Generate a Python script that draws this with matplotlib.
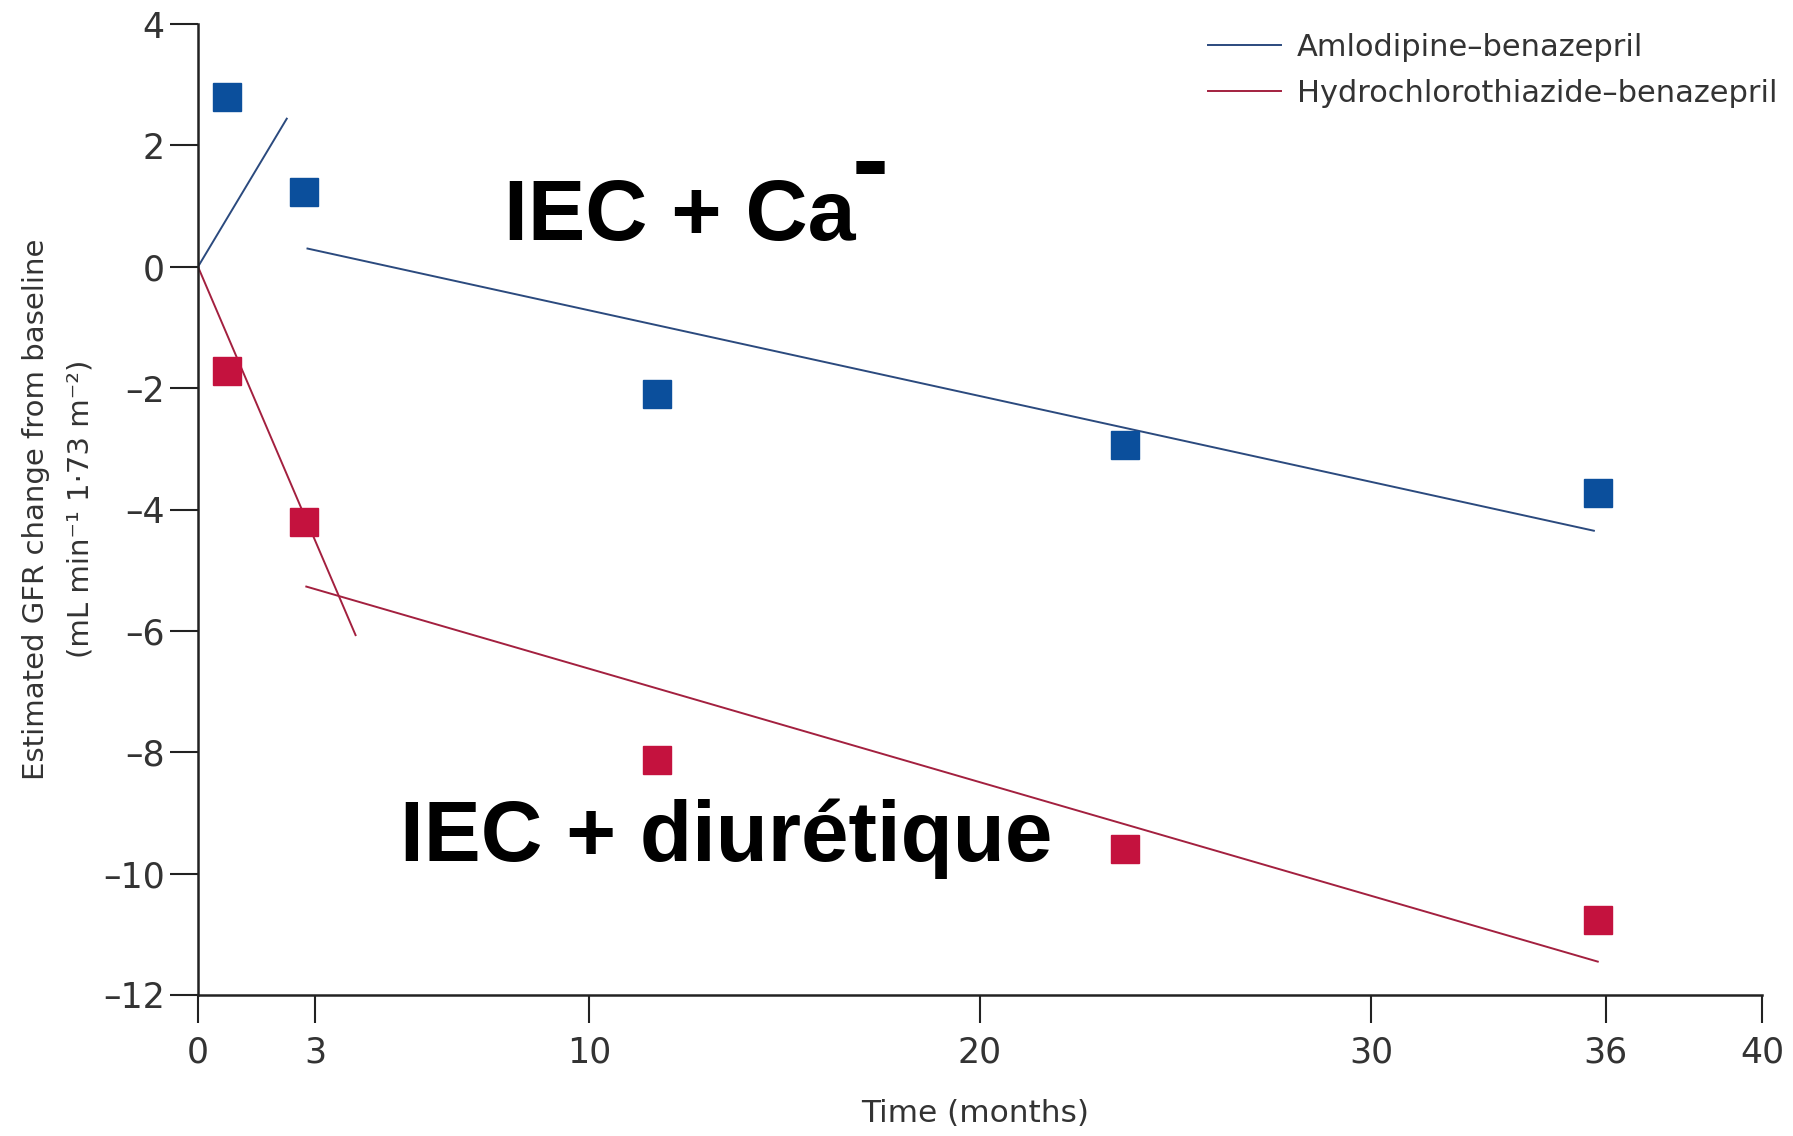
import matplotlib.pyplot as plt
from matplotlib.lines import Line2D

# Follow-up months of the measured points (same visits for both arms)
months = [0.75, 2.7, 11.75, 23.7, 35.8]
amlo_gfr = [2.79, 1.23, -2.10, -2.93, -3.72]
hctz_gfr = [-1.71, -4.20, -8.13, -9.60, -10.77]

# Fitted slopes: acute phase from baseline, then chronic phase
amlo_early_x = [0, 2.27]
amlo_early_y = [0, 2.44]
amlo_late_x = [2.8, 35.7]
amlo_late_y = [0.30, -4.35]
hctz_early_x = [0, 4.03]
hctz_early_y = [0, -6.07]
hctz_late_x = [2.77, 35.8]
hctz_late_y = [-5.27, -11.45]

x_ticks = [0, 3, 10, 20, 30, 36, 40]
y_ticks = [-12, -10, -8, -6, -4, -2, 0, 2, 4]

blue_mark = '#0b4f9c'
red_mark = '#c4123e'
blue_line = '#2b4a7e'
red_line = '#a3203f'
ink = '#333333'

W, H = 1793, 1136
fig = plt.figure(figsize=(W / 100, H / 100), dpi=100)
ax = fig.add_axes([198 / W, 1 - 995 / H, (1762 - 198) / W, (995 - 24) / H])

ax.plot(amlo_early_x, amlo_early_y, color=blue_line, lw=1.4)
ax.plot(amlo_late_x, amlo_late_y, color=blue_line, lw=1.4)
ax.plot(hctz_early_x, hctz_early_y, color=red_line, lw=1.4)
ax.plot(hctz_late_x, hctz_late_y, color=red_line, lw=1.4)

ax.plot(months, amlo_gfr, ls='none', marker='s', ms=20, color=blue_mark,
        mec=blue_mark, clip_on=False)
ax.plot(months, hctz_gfr, ls='none', marker='s', ms=20, color=red_mark,
        mec=red_mark, clip_on=False)

ax.set_xlim(0, 40)
ax.set_ylim(-12, 4)
ax.set_xticks(x_ticks)
ax.set_yticks(y_ticks)
ax.set_yticklabels([f'{v}'.replace('-', '\u2013') for v in y_ticks])
for side in ('top', 'right'):
    ax.spines[side].set_visible(False)
for side in ('left', 'bottom'):
    ax.spines[side].set_linewidth(1.8)
    ax.spines[side].set_color('#222222')
ax.tick_params(axis='both', length=20, width=1.5, color='#222222',
               labelsize=25, labelcolor=ink)
ax.tick_params(axis='y', pad=4)
ax.tick_params(axis='x', pad=9)

# Axis titles
fig.text(36 / W, 1 - 509 / H, 'Estimated GFR change from baseline',
         rotation=90, ha='center', va='center', fontsize=21, color=ink)
fig.text(81 / W, 1 - 509 / H, '(mL min\u207b\u00b9 1\u00b773 m\u207b\u00b2)',
         rotation=90, ha='center', va='center', fontsize=21, color=ink)
fig.text(975 / W, 1 - 1113 / H, 'Time (months)', ha='center', va='center',
         fontsize=22.5, color=ink)

# Legend
handles = [Line2D([0], [0], color=blue_line, lw=1.4),
           Line2D([0], [0], color=red_line, lw=1.4)]
fig.legend(handles, ['Amlodipine\u2013benazepril',
                     'Hydrochlorothiazide\u2013benazepril'],
           loc='upper left', bbox_to_anchor=(1208 / W, 1 - 33 / H),
           frameon=False, fontsize=22, handlelength=2.4, handletextpad=0.5,
           labelspacing=0.55, borderpad=0, borderaxespad=0, labelcolor=ink)

# Treatment annotations
big = dict(family='Liberation Sans', fontweight='bold', fontsize=62,
           color='black', va='baseline', ha='left')
fig.text(504 / W, 1 - 240 / H, 'IEC + Ca', **big)
fig.text(852 / W, 1 - 196 / H, '-', **{**big, 'fontsize': 80})
fig.text(400 / W, 1 - 861 / H, 'IEC + diur\u00e9tique', **{**big, 'fontsize': 61.5})

fig.savefig('out.png', dpi=100)
